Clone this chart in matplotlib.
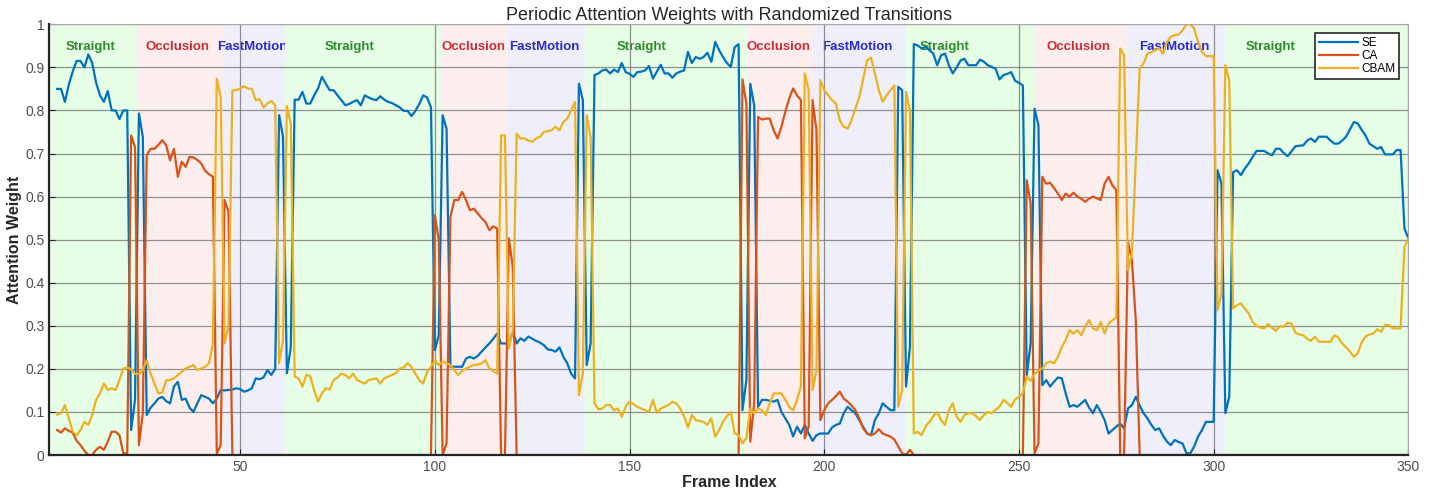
import numpy as np
import matplotlib.pyplot as plt

plt.rcParams['font.family'] = ['Liberation Sans', 'DejaVu Sans']

# frame index of the plotted samples
frames = np.arange(3, 351)

# SE weights, frames 3..350 (10 values per row)
se = [.85, .85, .82, .86, .89, .915, .915, .90, .93, .91,
      .865, .835, .82, .845, .80, .80, .78, .80, .80, .058,
      .128, .793, .739, .093, .11, .12, .131, .135, .125, .12,
      .159, .17, .128, .131, .11, .10, .12, .139, .135, .131,
      .12, .131, .151, .15, .151, .152, .155, .153, .147, .15,
      .155, .178, .176, .18, .197, .186, .20, .789, .739, .19,
      .25, .825, .825, .843, .816, .816, .835, .851, .878, .862,
      .847, .847, .835, .824, .812, .815, .82, .824, .812, .835,
      .83, .826, .824, .833, .825, .82, .817, .812, .807, .799,
      .799, .787, .799, .815, .835, .83, .807, .244, .278, .789,
      .758, .205, .205, .205, .205, .224, .228, .224, .23, .24,
      .25, .259, .27, .282, .259, .259, .259, .286, .259, .271,
      .265, .275, .27, .265, .261, .255, .245, .244, .24, .25,
      .228, .213, .189, .178, .862, .824, .209, .259, .882, .886,
      .893, .895, .886, .895, .889, .91, .889, .885, .878, .889,
      .89, .893, .903, .874, .89, .906, .886, .886, .876, .886,
      .89, .893, .936, .91, .924, .92, .924, .934, .913, .959,
      .94, .924, .91, .901, .947, .954, .104, .174, .862, .812,
      .112, .128, .128, .126, .124, .128, .10, .085, .07, .043,
      .066, .05, .07, .05, .033, .046, .05, .05, .05, .064,
      .07, .073, .097, .112, .104, .097, .081, .065, .05, .046,
      .081, .097, .12, .112, .104, .104, .855, .847, .159, .251,
      .954, .951, .944, .947, .94, .932, .905, .928, .932, .905,
      .886, .90, .916, .92, .905, .905, .905, .918, .913, .905,
      .901, .897, .872, .882, .885, .889, .869, .864, .858, .186,
      .259, .804, .766, .162, .174, .159, .17, .18, .178, .143,
      .112, .116, .112, .12, .128, .11, .097, .116, .10, .081,
      .05, .058, .066, .073, .062, .108, .116, .135, .115, .097,
      .085, .07, .058, .062, .045, .031, .023, .035, .03, .027,
      .004, .004, .02, .043, .058, .077, .077, .077, .661, .63,
      .097, .135, .657, .661, .65, .665, .677, .692, .706, .706,
      .706, .70, .696, .711, .711, .701, .694, .705, .717, .718,
      .719, .73, .735, .727, .739, .739, .739, .73, .723, .723,
      .73, .739, .756, .773, .77, .755, .742, .723, .717, .711,
      .715, .698, .698, .698, .708, .708, .526, .503]

# CA weights, frames 3..350
ca = [.058, .052, .062, .056, .052, .033, .023, .01, 0, 0,
      .012, .019, .012, .031, .054, .054, .046, .004, .004, .742,
      .715, .023, .097, .696, .711, .711, .72, .731, .719, .684,
      .711, .646, .681, .669, .692, .691, .685, .677, .66, .652,
      .646, .004, .023, .592, .565, 0, 0, 0, 0, 0,
      0, 0, 0, 0, 0, 0, 0, 0, 0, 0,
      0, 0, 0, 0, 0, 0, 0, 0, 0, 0,
      0, 0, 0, 0, 0, 0, 0, 0, 0, 0,
      0, 0, 0, 0, 0, 0, 0, 0, 0, 0,
      0, 0, 0, 0, 0, 0, 0, .557, .499, 0,
      .027, .553, .592, .592, .611, .592, .568, .572, .561, .55,
      .541, .522, .531, .526, 0, 0, .503, .437, 0, 0,
      0, 0, 0, 0, 0, 0, 0, 0, 0, 0,
      0, 0, 0, 0, 0, 0, 0, 0, 0, 0,
      0, 0, 0, 0, 0, 0, 0, 0, 0, 0,
      0, 0, 0, 0, 0, 0, 0, 0, 0, 0,
      0, 0, 0, 0, 0, 0, 0, 0, 0, 0,
      0, 0, 0, 0, 0, 0, .872, .816, .031, .12,
      .785, .779, .781, .781, .754, .735, .762, .797, .828, .851,
      .835, .824, .039, .066, .824, .754, .081, .104, .12, .128,
      .137, .147, .131, .124, .115, .104, .085, .062, .05, .046,
      .05, .06, .05, .046, .043, .036, .02, .004, 0, .012,
      0, 0, 0, 0, 0, 0, 0, 0, 0, 0,
      0, 0, 0, 0, 0, 0, 0, 0, 0, 0,
      0, 0, 0, 0, 0, 0, 0, 0, 0, .638,
      .584, .004, .027, .646, .63, .632, .62, .607, .592, .607,
      .6, .609, .6, .595, .588, .595, .6, .596, .592, .63,
      .646, .626, .615, 0, 0, .495, .452, .313, 0, 0,
      0, 0, 0, 0, 0, 0, 0, 0, 0, 0,
      0, 0, 0, 0, 0, 0, 0, 0, 0, 0,
      0, 0, 0, 0, 0, 0, 0, 0, 0, 0,
      0, 0, 0, 0, 0, 0, 0, 0, 0, 0,
      0, 0, 0, 0, 0, 0, 0, 0, 0, 0,
      0, 0, 0, 0, 0, 0, 0, 0, 0, 0,
      0, 0, 0, 0, 0, 0, 0, 0]

# CBAM weights, frames 3..350
cbam = [.094, .097, .116, .085, .054, .046, .058, .077, .07, .093,
        .128, .143, .166, .151, .155, .151, .174, .201, .203, .199,
        .189, .188, .197, .22, .189, .166, .143, .145, .174, .174,
        .178, .186, .193, .201, .205, .209, .197, .201, .205, .213,
        .259, .874, .831, .259, .298, .847, .847, .851, .856, .851,
        .85, .824, .826, .807, .816, .822, .812, .213, .267, .81,
        .77, .182, .178, .159, .186, .183, .151, .124, .143, .155,
        .152, .174, .18, .189, .186, .178, .189, .174, .17, .166,
        .174, .176, .178, .166, .178, .182, .186, .19, .201, .203,
        .213, .205, .189, .174, .166, .193, .205, .22, .209, .217,
        .213, .209, .197, .186, .195, .201, .205, .209, .21, .213,
        .22, .201, .195, .189, .742, .742, .247, .29, .746, .735,
        .735, .73, .727, .735, .739, .75, .752, .754, .762, .754,
        .773, .781, .80, .82, .139, .189, .789, .739, .12, .106,
        .108, .116, .116, .104, .108, .089, .112, .124, .118, .112,
        .108, .104, .10, .128, .098, .108, .112, .116, .124, .12,
        .108, .09, .064, .093, .081, .079, .077, .07, .085, .043,
        .058, .077, .09, .10, .05, .046, .027, .039, .108, .097,
        .108, .104, .093, .12, .143, .143, .143, .128, .112, .104,
        .128, .159, .886, .847, .151, .197, .87, .847, .835, .824,
        .816, .777, .762, .758, .777, .804, .831, .874, .916, .923,
        .886, .847, .82, .835, .847, .858, .112, .151, .843, .80,
        .05, .054, .046, .066, .077, .09, .10, .081, .07, .104,
        .12, .089, .077, .093, .097, .097, .09, .081, .093, .10,
        .097, .105, .112, .128, .121, .112, .129, .135, .143, .182,
        .172, .188, .196, .201, .213, .217, .213, .228, .251, .267,
        .29, .282, .29, .278, .298, .313, .294, .29, .309, .282,
        .305, .313, .319, .944, .928, .429, .468, .684, .897, .909,
        .932, .935, .94, .944, .932, .959, .971, .975, .976, .986,
        1.0, 1.0, .99, .959, .936, .926, .926, .926, .336, .375,
        .905, .87, .34, .348, .352, .34, .329, .309, .30, .296,
        .294, .304, .295, .288, .299, .298, .307, .305, .284, .28,
        .278, .27, .265, .275, .263, .263, .263, .263, .278, .273,
        .259, .25, .24, .228, .236, .261, .275, .28, .282, .292,
        .286, .302, .302, .294, .294, .294, .483, .503]

# scene phases
phase_names = ['Straight', 'Occlusion', 'FastMotion', 'Straight', 'Occlusion', 'FastMotion',
               'Straight', 'Occlusion', 'FastMotion', 'Straight', 'Occlusion', 'FastMotion', 'Straight']
phase_edges = [1, 23.5, 45.5, 61.5, 101.5, 118.5, 138.5, 180.5, 197, 221, 254, 278, 303, 350]
label_x = [11.5, 34, 53, 78, 110, 128, 153, 188.3, 208.4, 231, 265.4, 290, 314.6]

bg = {'Straight': '#e6fde6', 'Occlusion': '#fdeeee', 'FastMotion': '#eeeffb'}
fg = {'Straight': '#2e8b2e', 'Occlusion': '#d02a35', 'FastMotion': '#2a2ac8'}

fig = plt.figure(figsize=(14.43, 4.98), dpi=100)
ax = fig.add_axes([0.0342, 0.0863, 0.9418, 0.8649])

for i, name in enumerate(phase_names):
    ax.axvspan(phase_edges[i], phase_edges[i + 1], color=bg[name], lw=0, zorder=0.5 + i * 0.01)
    ax.text(label_x[i], 0.947, name, color=fg[name], fontsize=9.5, fontweight='bold',
            ha='center', va='center', zorder=0.505 + i * 0.01)

ax.plot(frames, se, color='#0072bd', lw=1.6, label='SE', zorder=2)
ax.plot(frames, ca, color='#d95319', lw=1.6, label='CA', zorder=2)
ax.plot(frames, cbam, color='#edb120', lw=1.6, label='CBAM', zorder=2)

ax.set_xlim(1, 350)
ax.set_ylim(0, 1)
ax.set_xticks([50, 100, 150, 200, 250, 300, 350])
ax.set_yticks(np.arange(0, 1.01, 0.1))
ax.set_yticklabels(['0', '0.1', '0.2', '0.3', '0.4', '0.5', '0.6', '0.7', '0.8', '0.9', '1'])
ax.set_axisbelow('line')
ax.grid(True, color='#6f6f6f', lw=0.9, alpha=0.75)
ax.tick_params(direction='in', length=4, labelsize=10, labelcolor='#4d4d4d', color='#262626')

for s in ['left', 'bottom']:
    ax.spines[s].set_color('#262626')
    ax.spines[s].set_linewidth(1.6)
    ax.spines[s].set_zorder(3)
for s in ['top', 'right']:
    ax.spines[s].set_color('#a8a8a8')

ax.set_title('Periodic Attention Weights with Randomized Transitions', fontsize=13, color='#262626', pad=3)
ax.set_xlabel('Frame Index', fontsize=11.5, fontweight='bold', color='#262626', labelpad=1)
ax.set_ylabel('Attention Weight', fontsize=11.5, fontweight='bold', color='#262626', labelpad=2)

leg = ax.legend(loc='upper right', bbox_to_anchor=(0.993, 0.979), fontsize=8.5, fancybox=False,
                framealpha=1, edgecolor='#262626', handlelength=3.3, handletextpad=0.3,
                labelspacing=0.1, borderpad=0.3, borderaxespad=0)
leg.get_frame().set_linewidth(1.2)

fig.savefig('out.png', dpi=100)
